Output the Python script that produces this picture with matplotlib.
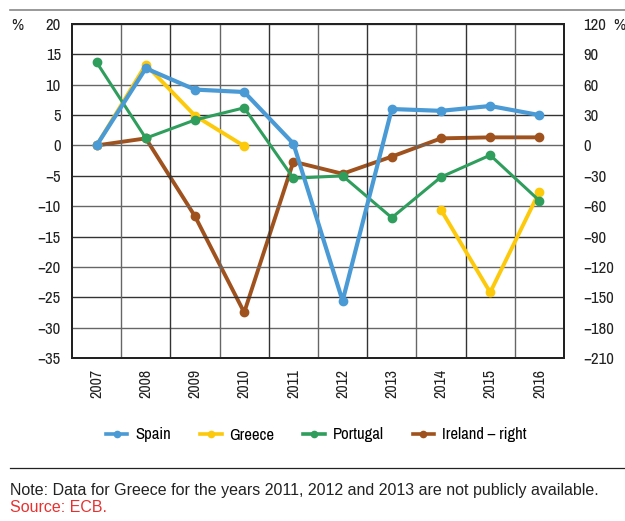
import matplotlib
matplotlib.use("Agg")
import matplotlib.pyplot as plt
import numpy as np
from matplotlib.lines import Line2D
from matplotlib import font_manager as fm

names = sorted({f.name for f in fm.fontManager.ttflist})
cond = [n for n in names if 'Condensed' in n or 'Narrow' in n]
base = cond + ['Liberation Sans', 'DejaVu Sans']
plt.rcParams['font.family'] = base

years = ['2007', '2008', '2009', '2010', '2011', '2012', '2013', '2014', '2015', '2016']
spain = [0.0, 12.7, 9.2, 8.8, 0.3, -25.6, 6.0, 5.7, 6.5, 5.0]
greece = [0.0, 13.3, 4.9, -0.1, np.nan, np.nan, np.nan, -10.6, -24.2, -7.6]
portugal = [13.7, 1.2, 4.2, 6.2, -5.4, -5.0, -11.9, -5.2, -1.6, -9.1]
ireland_right = [0.0, 7.0, -70.0, -165.0, -16.0, -28.0, -11.0, 7.0, 8.0, 8.0]

left_ticks = [20, 15, 10, 5, 0, -5, -10, -15, -20, -25, -30, -35]
right_ticks = [120, 90, 60, 30, 0, -30, -60, -90, -120, -150, -180, -210]

c_spain = '#4a9ad6'
c_greece = '#fdc90b'
c_port = '#2f9e5c'
c_ire = '#a0521e'

fig = plt.figure(figsize=(6.25, 5.21), dpi=100)
ax = fig.add_axes([72/625, 1-358/521, (564-72)/625, (358-24)/521])
ax2 = ax.twinx()

x = np.arange(len(years))
ax.set_xlim(-0.5, 9.5)
ax.set_ylim(-35, 20)
ax2.set_ylim(-210, 120)

for i, v in enumerate(left_ticks):
    ax.axhline(v, color='#333333' if i % 2 else '#666666', lw=1.0, zorder=0)
for i, b in enumerate(np.arange(0.5, 9.5, 1.0)):
    ax.axvline(b, color='#666666' if i % 2 == 0 else '#333333', lw=1.0, zorder=0)

ms = 6
ax.plot(x, greece, color=c_greece, lw=2.8, marker='o', ms=ms, zorder=3)
ax.plot(x, portugal, color=c_port, lw=2.2, marker='o', ms=ms, zorder=3)
ax.plot(x, spain, color=c_spain, lw=3.0, marker='o', ms=ms, zorder=4)
ax2.plot(x, ireland_right, color=c_ire, lw=2.8, marker='o', ms=ms, zorder=3)

ax.set_zorder(ax2.get_zorder() + 1)
ax.patch.set_visible(False)

ax.set_xticks(x)
ax.set_xticklabels(years, rotation=90, fontsize=11.5, color='#222222')
ax.set_yticks(left_ticks)
ax.set_yticklabels([str(t).replace('-', '\u2212') for t in left_ticks], fontsize=12, color='#222222')
ax2.set_yticks(right_ticks)
ax2.set_yticklabels([str(t).replace('-', '\u2212') for t in right_ticks], fontsize=12, color='#222222')
ax.tick_params(axis='both', length=0)
ax.tick_params(axis='y', pad=8)
ax2.tick_params(axis='y', length=0, pad=14)
ax.tick_params(axis='x', pad=8)

for a in (ax, ax2):
    for s in a.spines.values():
        s.set_color('#222222')
        s.set_linewidth(1.4)

fig.text(11/625, 1-25/521, '%', fontsize=12, ha='left', va='center', color='#222222')
fig.text(613/625, 1-25/521, '%', fontsize=12, ha='left', va='center', color='#222222')

fig.add_artist(Line2D([10/625, 1.0], [1-10/521, 1-10/521], color='#888888', lw=1.2))
fig.add_artist(Line2D([10/625, 1.0], [1-468/521, 1-468/521], color='#222222', lw=0.9))

handles = [Line2D([0], [0], color=c, lw=2.6, marker='o', ms=4.5) for c in (c_spain, c_greece, c_port, c_ire)]
fig.legend(handles, ['Spain', 'Greece', 'Portugal', 'Ireland \u2013 right'], loc='center',
           bbox_to_anchor=(316/625, 1-435/521), ncol=4, frameon=False, fontsize=12,
           handlelength=1.3, columnspacing=1.75, handletextpad=0.45)

fig.text(10/625, 1-490/521, 'Note: Data for Greece for the years 2011, 2012 and 2013 are not publicly available.',
         fontsize=11.5, ha='left', va='center', color='#222222', family=['Liberation Sans', 'DejaVu Sans'])
fig.text(10/625, 1-508/521, 'Source: ECB.', fontsize=11.5, ha='left', va='center', color='#e8312f',
         family=['Liberation Sans', 'DejaVu Sans'])

fig.savefig('out.png', dpi=100)
